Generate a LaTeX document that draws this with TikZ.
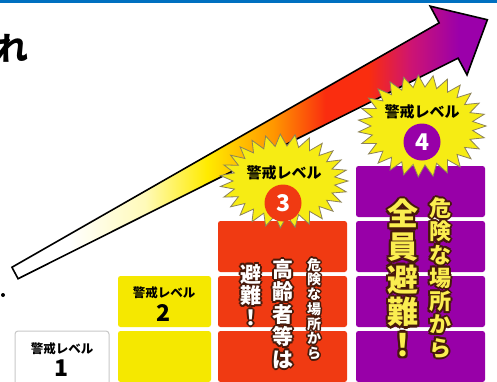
\documentclass[tikz,border=0pt]{standalone}
\usepackage{fontspec}
\newfontfamily\jp{Noto Sans CJK JP}
\usetikzlibrary{calc}
\definecolor{topblue}{RGB}{0,112,192}
\definecolor{lvyellow}{RGB}{245,232,0}
\definecolor{lvred}{RGB}{240,58,18}
\definecolor{lvpurple}{RGB}{152,0,168}
\definecolor{burstfill}{RGB}{246,236,20}
\definecolor{burstline}{RGB}{140,130,90}
\definecolor{lvgray}{RGB}{200,200,200}
\definecolor{outbrown}{RGB}{70,25,10}
\definecolor{txtyellow}{RGB}{250,238,80}
\definecolor{agltyellow}{RGB}{255,250,185}
\definecolor{agyellow}{RGB}{255,235,0}
\definecolor{agorange}{RGB}{255,150,0}
\definecolor{agred}{RGB}{250,45,15}
\definecolor{agmagenta}{RGB}{205,20,115}
\definecolor{agpurple}{RGB}{155,0,170}
\pgfdeclarehorizontalshading{arrowgrad}{100bp}{color(0bp)=(white); color(25bp)=(white); color(31bp)=(white); color(39bp)=(agltyellow); color(45.5bp)=(agyellow); color(52.5bp)=(agorange); color(58bp)=(agred); color(62.5bp)=(agred); color(67bp)=(agmagenta); color(72bp)=(agpurple); color(100bp)=(agpurple)}
\tikzset{
  vtx/.style={inner sep=0pt, align=center},
  burst/.style={fill=burstfill, draw=burstline, line width=0.8pt, line join=miter},
  lvtext/.style={inner sep=0pt, font=\jp\bfseries\fontsize{12.5}{14}\selectfont},
  lvnum/.style={inner sep=0pt, font=\jp\bfseries\fontsize{23}{23}\selectfont},
  bursttext/.style={inner sep=0pt, font=\jp\bfseries\fontsize{15}{15}\selectfont},
  numcircle/.style={circle, inner sep=0pt, minimum size=37pt, text=white, font=\jp\bfseries\fontsize{23}{23}\selectfont},
}
\newcommand\olt[6]{%
  \foreach \a in {0,45,...,315}{\node[vtx, font=#3, text=#5, shift={(\a:#6)}] (#1o\a) at (#2) {\csname oltbody#1\endcsname};}%
  \node[vtx, font=#3, text=#4] (#1) at (#2) {\csname oltbody#1\endcsname};}
\newcommand\burstshape[4]{%
  \begin{scope}[shift={(#1,#2)}]
  \draw[burst] (#3,0) \foreach \i in {0,...,26}{ -- ({#3*cos(\i*360/27)}, {#4*sin(\i*360/27)}) -- ({(#3-13)*cos((\i+0.5)*360/27)}, {(#4-12)*sin((\i+0.5)*360/27)}) } -- cycle;
  \end{scope}}
\expandafter\def\csname oltbodyra\endcsname{危\\険\\な\\場\\所\\か\\ら}
\expandafter\def\csname oltbodyrb\endcsname{高\\齢\\者\\等\\は}
\expandafter\def\csname oltbodyrc\endcsname{避\\難\\！}
\expandafter\def\csname oltbodypa\endcsname{危\\険\\な\\場\\所\\か\\ら}
\expandafter\def\csname oltbodypb\endcsname{全\\員\\避\\難\\！}
\begin{document}
\begin{tikzpicture}[x=1pt, y=-1pt]
\useasboundingbox (0,0) rectangle (497,381);
\fill[white] (0,0) rectangle (497,381);
\fill[topblue] (0,0) rectangle (497,2.5);
% cropped left text
\node[inner sep=0pt, font=\jp\bfseries\fontsize{32}{32}\selectfont] (lre) at (12,48) {れ};
\node[inner sep=0pt, font=\jp\fontsize{22}{22}\selectfont] (lta) at (-8,105) {た};
\fill (3,295) circle (2);
% arrow
\begin{scope}[shift={(15,273)}, rotate=28.2]
\path[shade, shading=arrowgrad, draw=black, line width=1.6pt, line join=miter]
  (0,-6.5) -- (492,-20) -- (492,-39) -- (536,0) -- (492,39) -- (492,20) -- (0,6.5) -- cycle;
\end{scope}
% level 1
\draw[fill=white, draw=lvgray, line width=1pt, rounded corners=3pt] (15,331) rectangle (109,390);
\node[lvtext] (l1t) at (62,349) {警戒レベル};
\node[lvnum] (l1n) at (62,368) {1};
% level 2
\foreach \t in {276,331}{\fill[lvyellow, rounded corners=2.5pt] (118,\t) rectangle (211,{\t+51});}
\node[lvtext] (l2t) at (164,293) {警戒レベル};
\node[lvnum] (l2n) at (164,313) {2};
% level 3
\foreach \t in {221,276,331}{\fill[lvred, rounded corners=2.5pt] (218,\t) rectangle (347,{\t+51});}
% level 4
\foreach \t in {166,221,276,331}{\fill[lvpurple, rounded corners=2.5pt] (356,\t) rectangle (485,{\t+51});}
% bursts
\burstshape{284}{181}{64}{47}
\burstshape{422}{126}{64}{51}
\node[bursttext] (s3t) at (284,173) {警戒レベル};
\node[numcircle, fill=lvred] (c3) at (283,203) {3};
\node[bursttext] (s4t) at (422,112) {警戒レベル};
\node[numcircle, fill=lvpurple] (c4) at (422,142) {4};
% column texts
\olt{ra}{314,309}{\jp\bfseries\fontsize{14}{14.7}\selectfont}{white}{outbrown}{1.6}
\olt{rb}{283,314}{\jp\bfseries\fontsize{21}{22.4}\selectfont}{white}{outbrown}{1.9}
\olt{rc}{251,295}{\jp\bfseries\fontsize{21}{21.6}\selectfont}{white}{outbrown}{1.9}
\olt{pa}{440,278}{\jp\bfseries\fontsize{22}{23.3}\selectfont}{txtyellow}{outbrown}{2.0}
\olt{pb}{403,278}{\jp\bfseries\fontsize{31}{32.6}\selectfont}{txtyellow}{outbrown}{2.4}
\end{tikzpicture}
\end{document}
